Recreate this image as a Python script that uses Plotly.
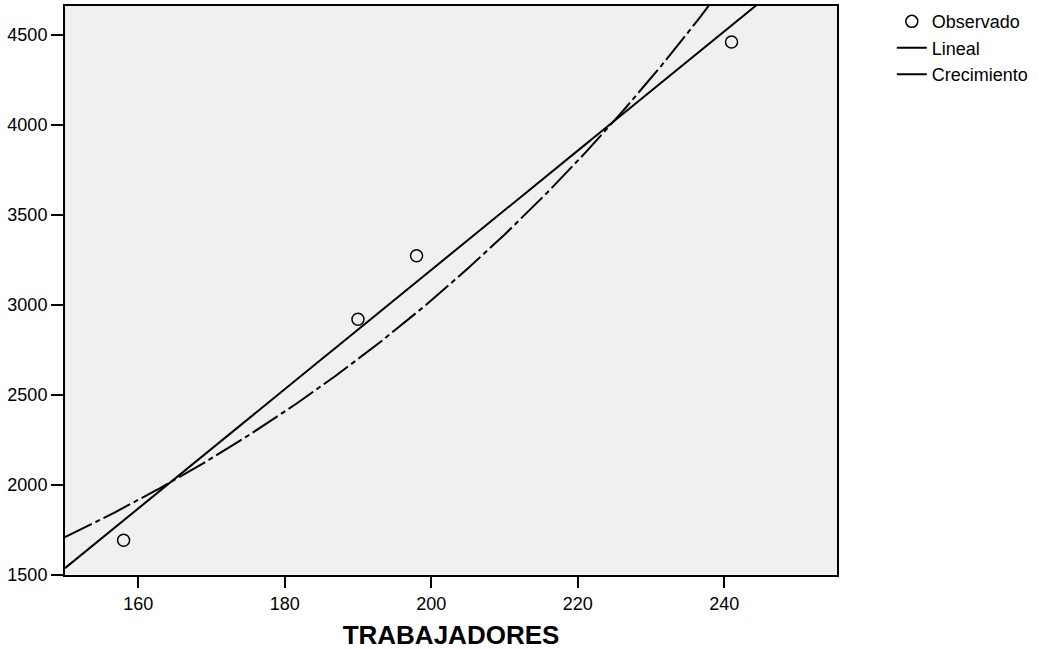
import numpy as np
import plotly.graph_objects as go

trabajadores = [158, 190, 198, 241]
observado = [1693, 2920, 3273, 4460]

x_range = [150, 255.4]
y_range = [1500, 4660]
x_ticks = [160, 180, 200, 220, 240]
y_ticks = [1500, 2000, 2500, 3000, 3500, 4000, 4500]

# Curve estimation fits (SPSS "Lineal" and "Crecimiento") from the observed data
xo = np.array(trabajadores, dtype=float)
yo = np.array(observado, dtype=float)
b_lin, a_lin = np.polyfit(xo, yo, 1)
b_gro, a_gro = np.polyfit(xo, np.log(yo), 1)
xs = np.linspace(x_range[0], x_range[1], 300)
y_lin = a_lin + b_lin * xs
y_gro = np.exp(a_gro + b_gro * xs)

FONT = "Liberation Sans, Arial, sans-serif"

fig = go.Figure()
fig.add_trace(go.Scatter(
    x=trabajadores, y=observado, mode="markers", name="Observado",
    marker=dict(symbol="circle-open", size=12, color="black", line=dict(width=1.5, color="black")),
))
fig.add_trace(go.Scatter(
    x=xs, y=y_lin, mode="lines", name="Lineal",
    line=dict(color="black", width=2),
))
fig.add_trace(go.Scatter(
    x=xs, y=y_gro, mode="lines", name="Crecimiento",
    line=dict(color="black", width=2, dash="30px,4px,5px,4px"),
))

fig.update_layout(
    width=1039, height=650,
    margin=dict(l=65, r=202, t=3, b=75),
    paper_bgcolor="white", plot_bgcolor="#F0F0F0",
    font=dict(family=FONT, size=18, color="black"),
    showlegend=True,
    legend=dict(
        x=1.071, y=1.005, xanchor="left", yanchor="top",
        bgcolor="rgba(0,0,0,0)", borderwidth=0,
        font=dict(family=FONT, size=18, color="black"),
        tracegroupgap=0, itemwidth=30,
    ),
)
fig.update_xaxes(
    range=x_range, tickvals=x_ticks, ticktext=[str(v) for v in x_ticks],
    ticks="outside", ticklen=11, tickwidth=2, tickcolor="black",
    showline=True, linecolor="black", linewidth=2, mirror=True,
    showgrid=False, zeroline=False,
    tickfont=dict(family=FONT, size=18, color="black"),
    title=dict(text="<b>TRABAJADORES</b>", font=dict(family=FONT, size=26, color="black"), standoff=14),
)
fig.update_yaxes(
    range=y_range, tickvals=y_ticks, ticktext=[str(v) for v in y_ticks],
    ticks="outside", ticklen=12, tickwidth=2, tickcolor="black",
    showline=True, linecolor="black", linewidth=2, mirror=True,
    showgrid=False, zeroline=False,
    tickfont=dict(family=FONT, size=18, color="black"),
    ticklabelstandoff=0,
)

fig.write_html("out.html")
